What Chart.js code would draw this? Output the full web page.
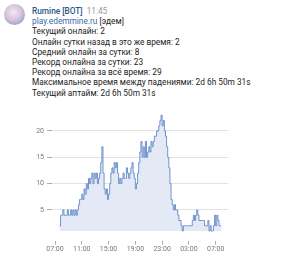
<!DOCTYPE html>
<html>
<head>
<meta charset="utf-8">
<script src="https://cdn.jsdelivr.net/npm/chart.js@4/dist/chart.umd.min.js"></script>
<style>
  html, body { margin: 0; padding: 0; background: #fff; }
  body { width: 300px; height: 264px; position: relative; overflow: hidden; font-family: Roboto, "Noto Sans", sans-serif; }
  .avatar {
    position: absolute; left: 4px; top: 4px; width: 21px; height: 21px; border-radius: 50%;
    background: radial-gradient(circle at 45% 40%, #f6e8f0 0%, #d9c3dc 45%, #9aa6c8 75%, #c9d3e6 100%);
  }
  .msg { position: absolute; left: 32px; top: 6px; font-size: 8.3px; line-height: 10.2px; color: #222; white-space: nowrap; }
  .name { color: #2a5885; font-weight: 500; }
  .time { color: #999; margin-left: 4px; }
  .link { color: #3a6aa3; }
  #wrap { position: absolute; left: 30px; top: 108px; width: 205px; height: 150px; }
</style>
</head>
<body>
<div class="avatar"></div>
<div class="msg">
  <div><span class="name">Rumine [BOT]</span><span class="time">11:45</span></div>
  <div><span class="link">play.edemmine.ru</span> [эдем]</div>
  <div>Текущий онлайн: 2</div>
  <div>Онлайн сутки назад в это же время: 2</div>
  <div>Средний онлайн за сутки: 8</div>
  <div>Рекорд онлайна за сутки: 23</div>
  <div>Рекорд онлайна за всё время: 29</div>
  <div>Максимальное время между падениями: 2d 6h 50m 31s</div>
  <div>Текущий аптайм: 2d 6h 50m 31s</div>
</div>
<div id="wrap"><canvas id="onlineChart"></canvas></div>
<script>
// онлайн каждые 10 минут, с 07:40 до 07:40 следующего дня
const START_HOUR = 7 + 40 / 60;
const STEP_HOURS = 10 / 60;
const online = [
  2, 4, 4, 5, 4, 4, 4, 5, 4, 4, 5, 4, 5, 4, 5, 4, 5, 6, 7, 7,
  8, 7, 9, 8, 10, 9, 11, 10, 11, 12, 10, 12, 11, 12, 10, 11, 12, 14, 17, 12,
  9, 8, 9, 7, 8, 10, 12, 13, 12, 14, 13, 14, 12, 10, 11, 10, 11, 12, 11, 11,
  13, 12, 11, 12, 13, 14, 12, 11, 9, 10, 12, 14, 16, 18, 15, 17, 15, 18, 15, 16,
  17, 16, 18, 17, 18, 19, 19, 20, 20, 21, 22, 23, 21, 22, 20, 19, 17, 15, 13, 10,
  7, 6, 5, 6, 5, 5, 4, 3, 3, 2, 1, 2, 2, 2, 2, 2, 2, 2, 2, 3,
  4, 3, 4, 5, 4, 3, 3, 3, 3, 3, 2, 2, 2, 3, 1, 2, 1, 1, 2, 4,
  2, 4, 3, 2, 2, 2
];
const X_TICKS = [7, 11, 15, 19, 23, 27, 31];
const Y_TICKS = [5, 10, 15, 20];

const points = online.map((v, i) => ({ x: START_HOUR + i * STEP_HOURS, y: v }));

function hourLabel(h) {
  const hh = Math.round(h) % 24;
  return (hh < 10 ? '0' : '') + hh + ':00';
}

new Chart(document.getElementById('onlineChart'), {
  type: 'line',
  data: {
    datasets: [{
      data: points,
      stepped: true,
      borderColor: 'rgba(80, 124, 195, 0.8)',
      backgroundColor: 'rgb(227, 234, 246)',
      borderWidth: 1,
      pointRadius: 0,
      fill: { value: 1 },
      clip: 3
    }]
  },
  options: {
    responsive: true,
    maintainAspectRatio: false,
    animation: false,
    layout: { padding: { top: 7, right: 7, left: 0, bottom: 0 } },
    plugins: { legend: { display: false }, tooltip: { enabled: false } },
    scales: {
      x: {
        type: 'linear',
        min: 6.55,
        max: 32.84,
        border: { display: false },
        grid: { drawOnChartArea: false, drawTicks: true, tickLength: 4, color: '#aaa' },
        afterBuildTicks: axis => { axis.ticks = X_TICKS.map(v => ({ value: v })); },
        afterFit: scale => { scale.height = 17.5; },
        ticks: {
          padding: 1,
          color: '#777',
          font: { family: 'Roboto', size: 7 },
          maxRotation: 0,
          callback: v => hourLabel(v)
        }
      },
      y: {
        min: -0.8,
        max: 23,
        border: { display: false },
        grid: { color: '#e2e2e2', tickLength: 5, tickColor: '#aaa' },
        afterBuildTicks: axis => { axis.ticks = Y_TICKS.map(v => ({ value: v })); },
        afterFit: scale => { scale.width = 22; },
        ticks: {
          padding: 3,
          color: '#777',
          font: { family: 'Roboto', size: 7 }
        }
      }
    }
  }
});
</script>
</body>
</html>
